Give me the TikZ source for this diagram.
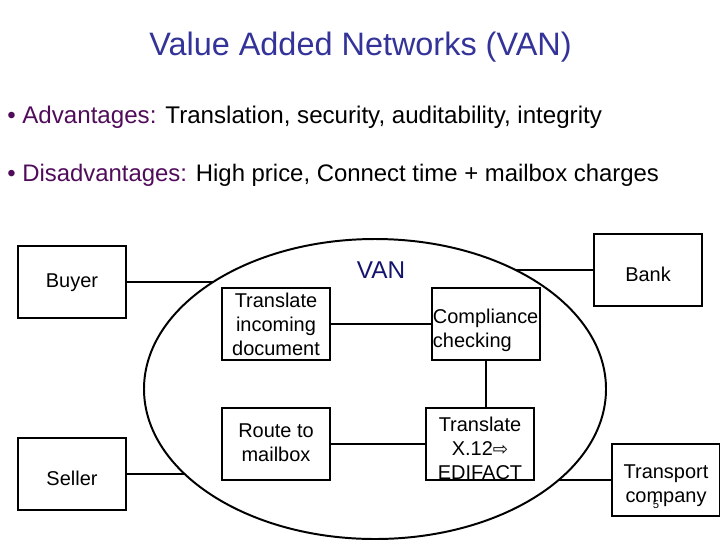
\documentclass[tikz,border=0pt]{standalone}
\usepackage{fontspec}
\setmainfont{Liberation Sans}
\newfontfamily\arrowfont{DejaVu Sans}
\definecolor{titleblue}{RGB}{51,51,153}
\definecolor{headpurple}{RGB}{80,12,90}
\definecolor{vannavy}{RGB}{20,20,110}
\newcommand{\boxtext}[2]{\raisebox{#1}[0pt][0pt]{\begin{tabular}[c]{@{}c@{}}#2\end{tabular}}}
\tikzset{
  boxnode/.style={draw,line width=1.4pt,minimum width=2.7cm,minimum height=1.8cm,inner sep=0pt,outer sep=0pt,
    font=\fontsize{14.2}{17.07}\selectfont},
  link/.style={line width=1.4pt},
  bulletline/.style={anchor=base west,inner sep=0pt,font=\fontsize{17}{20}\selectfont}
}
\begin{document}
\begin{tikzpicture}[x=0.025cm,y=-0.025cm]
        \useasboundingbox (0,0) rectangle (720,540);
        \node[anchor=base,inner sep=0pt,text=titleblue,font=\fontsize{23.06}{28}\selectfont] (title) at (360.5,55) {Value Added Networks (VAN)};
        \node[bulletline,font=\fontsize{17.15}{20}\selectfont] (advantages) at (7,123) {{\color{headpurple}• Advantages:} Translation, security, auditability, integrity};
        \node[bulletline] (disadvantages) at (7,181) {{\color{headpurple}• Disadvantages:} High price, Connect time + mailbox charges};
        \draw[line width=1.4pt] (375,389) ellipse [x radius=231,y radius=150];
        \node[inner sep=0pt,text=vannavy,font=\fontsize{17.3}{20}\selectfont] (van) at (381,270) {VAN};
        \coordinate (buyerend) at (213,282);
        \coordinate (sellerend) at (185,474);
        \coordinate (bankend) at (516,270);
        \coordinate (transportend) at (559,480);
        \node[boxnode] (buyer) at (72,282) {\boxtext{-3.8pt}{Buyer}};
        \node[boxnode] (seller) at (72,474) {\boxtext{-8.6pt}{Seller}};
        \node[boxnode] (incoming) at (276,324) {\boxtext{-5.2pt}{Translate\\incoming\\document}};
        \node[boxnode] (mailbox) at (276,444) {\boxtext{-3.8pt}{Route to\\mailbox}};
        \node[boxnode] (compliance) at (486,324) {\boxtext{-8.4pt}{\hspace*{-0.5pt}\begin{tabular}{@{}l@{}}Compliance\\checking\end{tabular}}};
        \node[boxnode] (edifact) at (480,444) {\boxtext{-8.6pt}{Translate\\X.12{\arrowfont\fontsize{13}{15}\selectfont ⇨}\\EDIFACT}};
        \node[boxnode] (bank) at (648,270) {\boxtext{-8.4pt}{Bank}};
        \node[boxnode] (transport) at (666,480) {\boxtext{-7.7pt}{Transport\\company}};
        \node[inner sep=0pt,font=\fontsize{8}{9}\selectfont] (pagenum) at (656,505) {5};
        \draw[link] (buyer.east) -- (buyerend);
        \draw[link] (seller.east) -- (sellerend);
        \draw[link] (bank.west) -- (bankend);
        \draw[link] (transport.west) -- (transportend);
        \draw[link] (incoming.east) -- (compliance.west);
        \draw[link] (mailbox.east) -- (edifact.west);
        \draw[link] (compliance.south) -- (compliance.south |- edifact.north);
\end{tikzpicture}
\end{document}
